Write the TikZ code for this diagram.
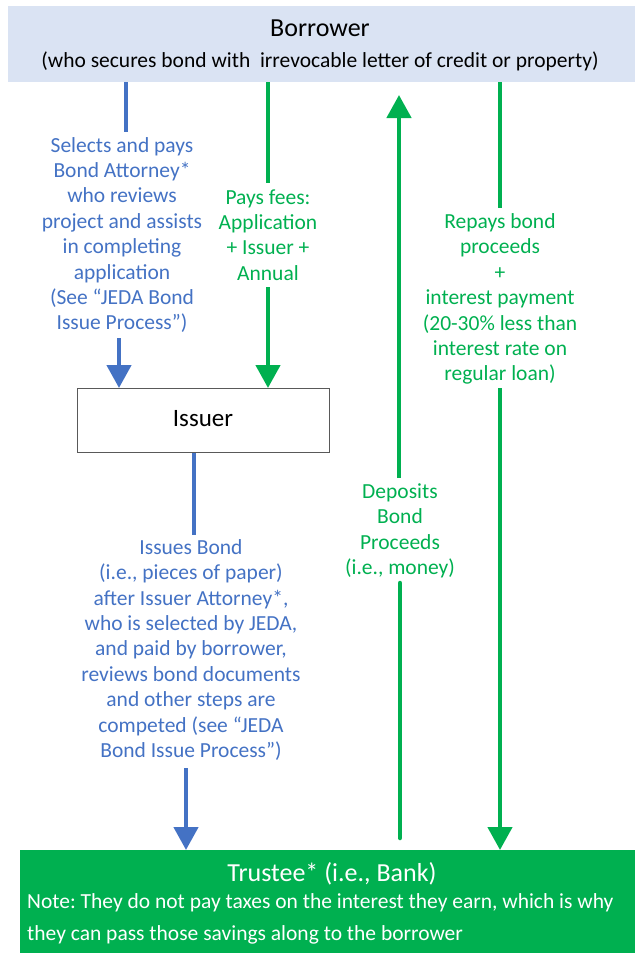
\documentclass[tikz,border=0pt]{standalone}
\usepackage{fontspec}
\setmainfont{Carlito}
\usetikzlibrary{arrows.meta}
\frenchspacing
\definecolor{cblue}{HTML}{4472C4}
\definecolor{cgreen}{HTML}{00B050}
\definecolor{cbor}{HTML}{DAE3F3}
\definecolor{cgrayline}{HTML}{595959}
\tikzset{
  lbl/.style={align=center, inner sep=0pt, font=\fontsize{21.5}{25.4}\selectfont},
  bluelbl/.style={lbl, text=cblue},
  greenlbl/.style={lbl, text=cgreen},
  bline/.style={draw=cblue, line width=4.5pt},
  gline/.style={draw=cgreen, line width=4.5pt},
  tip/.style={-{Triangle[width=24pt,length=23pt]}},
  title/.style={inner sep=0pt, font=\fontsize{26}{30}\selectfont},
}
\begin{document}
\begin{tikzpicture}[x=1pt,y=-1pt]
\useasboundingbox (0,0) rectangle (635,953);
% boxes
\node[fill=cbor, draw=none, minimum width=627pt, minimum height=76pt, anchor=north west, inner sep=0pt] (bor) at (8,6) {};
\node[title] (bortitle) at (320,28) {Borrower};
\node[lbl, text=black] (borsub) at (320,61) {(who secures bond with\ \ irrevocable letter of credit or property)};
\node[draw=cgrayline, line width=0.9pt, minimum width=252pt, minimum height=64pt, anchor=north west, inner sep=0pt] (iss) at (77,388) {};
\node[title, font=\fontsize{25}{30}\selectfont] (isstext) at (203,419) {Issuer};
\node[fill=cgreen, draw=none, minimum width=615pt, minimum height=103pt, anchor=north west, inner sep=0pt] (tru) at (20,850) {};
\node[title, text=white] (trutitle) at (332,874) {Trustee* (i.e., Bank)};
\node[lbl, text=white, anchor=west] (trunote1) at (27,903) {Note: They do not pay taxes on the interest they earn, which is why};
\node[lbl, text=white, anchor=west] (trunote2) at (27,935) {they can pass those savings along to the borrower};
% labels
\node[bluelbl] (l1) at (122,235) {Selects and pays\\Bond Attorney*\\who reviews\\project and assists\\in completing\\application\\(See “JEDA Bond\\Issue Process”)};
\node[greenlbl] (l2) at (268,235) {Pays fees:\\Application\\+ Issuer +\\Annual};
\node[greenlbl] (l3) at (500,299) {Repays bond\\proceeds\\+\\interest payment\\(20-30\% less than\\interest rate on\\regular loan)};
\node[greenlbl] (l4) at (400,531) {Deposits\\Bond\\Proceeds\\(i.e., money)};
\node[bluelbl] (l5) at (191,650) {Issues Bond\\(i.e., pieces of paper)\\after Issuer Attorney*,\\who is selected by JEDA,\\and paid by borrower,\\reviews bond documents\\and other steps are\\competed (see “JEDA\\Bond Issue Process”)};
% connector ends at label gaps
\coordinate (b1a) at (126,132);
\coordinate (b1b) at (119,338);
\coordinate (g1a) at (268,183);
\coordinate (g1b) at (268,287);
\coordinate (g3a) at (500,208);
\coordinate (g3b) at (500,388);
\coordinate (g4bot) at (400,838);
\coordinate (g4a) at (400,583);
\coordinate (g4b) at (399,478);
\coordinate (g4top) at (399,95);
\coordinate (b5a) at (194,535);
\coordinate (b5b) at (186,768);
% connectors
\draw[bline] (bor.south -| b1a) -- (b1a);
\draw[bline, tip] (b1b) -- (b1b |- iss.north);
\draw[gline] (bor.south -| g1a) -- (g1a);
\draw[gline, tip] (g1b) -- (g1b |- iss.north);
\draw[gline] (bor.south -| g3a) -- (g3a);
\draw[gline, tip] (g3b) -- (g3b |- tru.north);
\draw[gline, line cap=round] (g4bot) -- (g4a);
\draw[gline, tip] (g4b) -- (g4top);
\draw[bline] (iss.south -| b5a) -- (b5a);
\draw[bline, tip] (b5b) -- (b5b |- tru.north);
\end{tikzpicture}
\end{document}
